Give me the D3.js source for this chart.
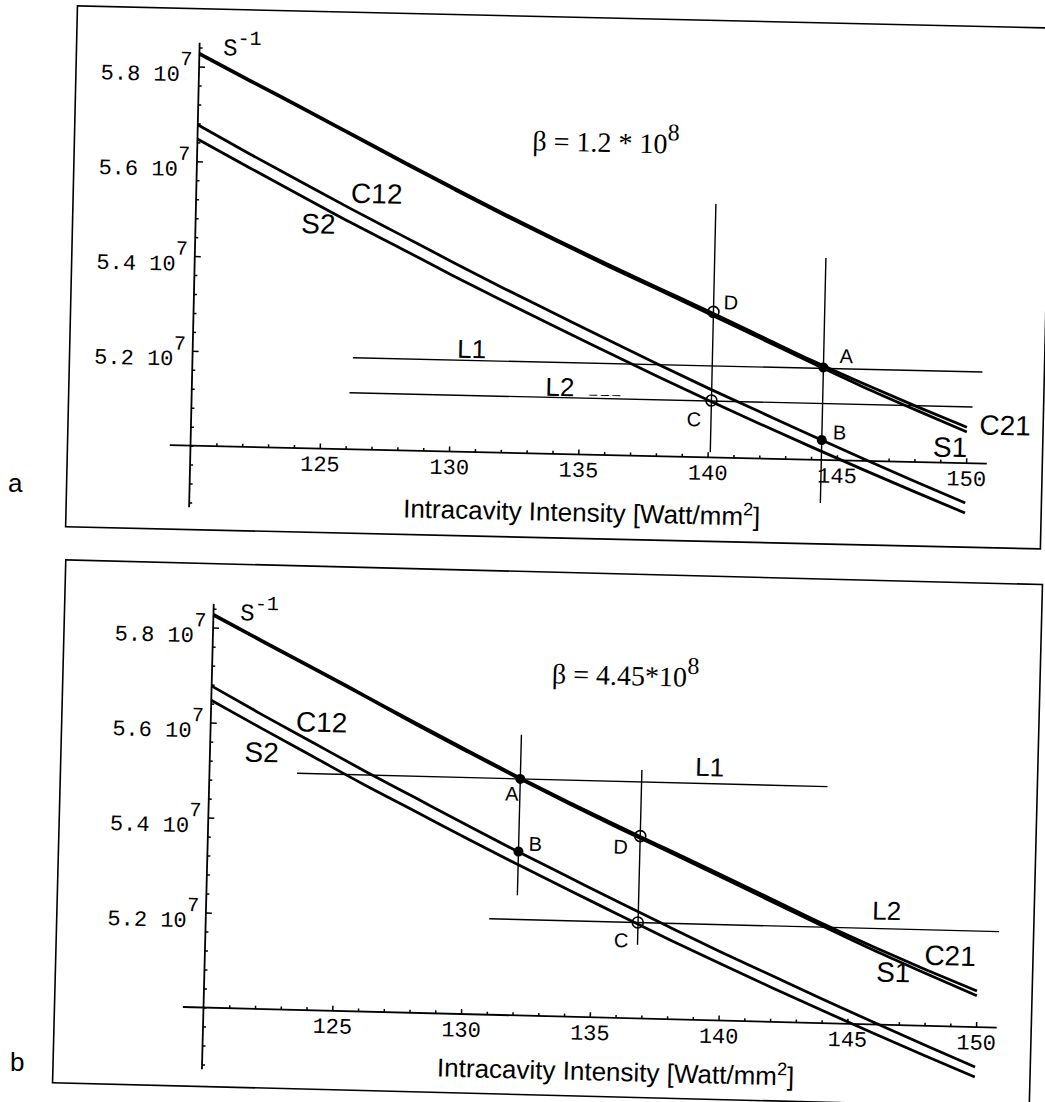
<!DOCTYPE html>
<html>
<head>
<meta charset="utf-8">
<script src="https://cdn.jsdelivr.net/npm/d3@7"></script>
<style>
  body { margin: 0; background: #fff; }
  svg { display: block; }
</style>
</head>
<body>
<svg id="chart" width="1045" height="1102"></svg>
<script>
// values, y in units of 10^7 s^-1
const intensity = [120, 122, 124, 126, 128, 130, 132, 134, 136, 138, 140, 142, 144, 146, 148, 150];
const c21 = [5.828, 5.773, 5.719, 5.664, 5.609, 5.555, 5.502, 5.451, 5.402, 5.354, 5.306, 5.257, 5.208, 5.162, 5.118, 5.076];
const s1  = [5.826, 5.771, 5.717, 5.662, 5.606, 5.552, 5.499, 5.448, 5.398, 5.350, 5.301, 5.252, 5.203, 5.155, 5.110, 5.066];
const c12 = [5.677, 5.619, 5.563, 5.507, 5.453, 5.399, 5.346, 5.295, 5.244, 5.194, 5.145, 5.098, 5.051, 5.005, 4.960, 4.916];
const s2  = [5.647, 5.590, 5.534, 5.478, 5.425, 5.371, 5.319, 5.268, 5.218, 5.168, 5.120, 5.073, 5.027, 4.982, 4.938, 4.895];

const xMajor = [125, 130, 135, 140, 145, 150];
const yMajor = [5.2, 5.4, 5.6, 5.8];
const yTickText = ["5.2 10", "5.4 10", "5.6 10", "5.8 10"];

// per panel (a, b)
const panelNames = ["a", "b"];
const betaText = ["β = 1.2 * 10", "β = 4.45*10"];
const l1Level = [5.193, 5.498];
const l1Span = [[126.2, 150.55], [123.4, 144.0]];
const l2Level = [5.119, 5.202];
const l2Span = [[126.1, 150.2], [131.0, 150.8]];
const vLineX = [[140.1, 144.4], [136.78, 132.07]];
const vLineSpan = [[[5.011, 5.535], [4.909, 5.426]], [[5.155, 5.523], [5.253, 5.591]]];
const pointNames = ["A", "B", "C", "D"];
const pointFilled = [true, true, false, false];
const pointX = [[144.4, 144.4, 140.1, 140.1], [132.07, 132.07, 136.77, 136.78]];
const pointY = [[5.195, 5.042, 5.120, 5.307], [5.498, 5.345, 5.202, 5.384]];

// layout of each scanned panel (slightly rotated in the scan)
const layout = [
  {
    origin: [190.5, 445.6], angle: 1.3, xLen: 775.8, yLen: 379.2,
    frame: [-123, -437, 852, 84], tag: [8, 492],
    curveLab: {C21: [814, -29], S1: [759.5, -6], C12: [180.5, -246.5], S2: [122.8, -215]},
    l1Lab: [279, -94], l2Lab: [368, -58], dashLab: [413, -62],
    beta: [335, -303], sInv: [23.6, -391], title: [214, 67],
    ptLab: {A: [16, -5, "start"], B: [11, -1, "start"], C: [-10, 26, "end"], D: [10, -3, "start"]}
  },
  {
    origin: [203.5, 1007.5], angle: 1.45, xLen: 772.8, yLen: 380,
    frame: [-149, -444, 828, 79], tag: [10, 1071],
    curveLab: {C21: [745, -61], S1: [688.7, -43], C12: [111, -278.5], S2: [51.7, -247]},
    l1Lab: [500, -244], l2Lab: [680.5, -105], dashLab: null,
    beta: [340, -333], sInv: [26.7, -388], title: [235, 63],
    ptLab: {A: [-8, 22, "middle"], B: [10, -1, "start"], C: [-9, 25, "end"], D: [-12, 18, "end"]}
  }
];

const curves = [
  {name: "C21", values: c21},
  {name: "S1", values: s1},
  {name: "C12", values: c12},
  {name: "S2", values: s2}
];

const svg = d3.select("#chart");
const sans = "'Liberation Sans', Arial, sans-serif";
const mono = "'Liberation Mono', 'Courier New', monospace";
const serif = "'Liberation Serif', 'Times New Roman', serif";

layout.forEach((L, i) => {
  // panel letter outside the frame
  svg.append("text")
    .attr("x", L.tag[0]).attr("y", L.tag[1])
    .attr("font-family", sans).attr("font-size", 26)
    .text(panelNames[i]);

  const g = svg.append("g")
    .attr("transform", `translate(${L.origin[0]},${L.origin[1]}) rotate(${L.angle})`);

  const x = d3.scaleLinear().domain([120, 150]).range([0, L.xLen]);
  const y = d3.scaleLinear().domain([5.0, 5.8]).range([0, -L.yLen]);

  // frame
  g.append("rect")
    .attr("x", L.frame[0]).attr("y", L.frame[1])
    .attr("width", L.frame[2] - L.frame[0]).attr("height", L.frame[3] - L.frame[1])
    .attr("fill", "none").attr("stroke", "#000").attr("stroke-width", 1.6);

  // axis lines
  g.append("line")
    .attr("x1", x(119.2)).attr("x2", x(150.8)).attr("y1", y(5.0)).attr("y2", y(5.0))
    .attr("stroke", "#000").attr("stroke-width", 1.8);
  g.append("line")
    .attr("x1", x(120)).attr("x2", x(120)).attr("y1", y(4.87)).attr("y2", y(5.85))
    .attr("stroke", "#000").attr("stroke-width", 1.8);

  // x ticks (upwards), labels below
  const xMinor = d3.range(121, 151).filter(v => v % 5 !== 0);
  const xAxisG = g.append("g").attr("transform", `translate(0,${y(5.0)})`);
  xAxisG.append("g")
    .call(d3.axisBottom(x).tickValues(xMinor).tickSize(-3).tickFormat(""))
    .call(a => a.select(".domain").remove());
  xAxisG.append("g")
    .call(d3.axisBottom(x).tickValues(xMajor).tickSize(-5).tickPadding(7).tickFormat(d3.format("d")))
    .call(a => a.select(".domain").remove())
    .call(a => a.selectAll("text").attr("font-family", mono).attr("font-size", 22).attr("fill", "#000"));
  xAxisG.selectAll("line").attr("stroke", "#000").attr("stroke-width", 1.5);

  // y ticks (to the right), labels "5.8 10^7"
  const yMinor = d3.range(122, 147).map(k => k * 0.04).filter(v => !yMajor.some(m => Math.abs(m - v) < 1e-6));
  const yAxisG = g.append("g").attr("transform", `translate(${x(120)},0)`);
  yAxisG.append("g")
    .call(d3.axisLeft(y).tickValues(yMinor).tickSize(-3).tickFormat(""))
    .call(a => a.select(".domain").remove());
  yAxisG.append("g")
    .call(d3.axisLeft(y).tickValues(yMajor).tickSize(-6).tickFormat(""))
    .call(a => a.select(".domain").remove());
  yAxisG.selectAll("line").attr("stroke", "#000").attr("stroke-width", 1.5);
  yMajor.forEach((v, k) => {
    g.append("text")
      .attr("font-family", mono).attr("font-size", 22)
      .attr("x", x(120) - 19).attr("y", y(v) + 15)
      .attr("text-anchor", "end")
      .text(yTickText[k]);
    g.append("text")
      .attr("font-family", mono).attr("font-size", 20)
      .attr("x", x(120) - 19).attr("y", y(v) - 1)
      .text("7");
  });

  // S^-1 unit
  g.append("text")
    .attr("x", L.sInv[0]).attr("y", L.sInv[1])
    .attr("font-family", mono).attr("font-size", 24)
    .call(t => t.append("tspan").text("S"))
    .call(t => t.append("tspan").attr("dy", -11).attr("font-size", 20).text("-1"));

  // curves
  const line = d3.line()
    .x((d, k) => x(intensity[k]))
    .y(d => y(d))
    .curve(d3.curveMonotoneX);
  curves.forEach(c => {
    g.append("path")
      .attr("d", line(c.values))
      .attr("fill", "none").attr("stroke", "#000").attr("stroke-width", 2.8);
  });

  // horizontal guide lines L1, L2
  [[l1Level[i], l1Span[i]], [l2Level[i], l2Span[i]]].forEach(([lev, span]) => {
    g.append("line")
      .attr("x1", x(span[0])).attr("x2", x(span[1]))
      .attr("y1", y(lev)).attr("y2", y(lev))
      .attr("stroke", "#000").attr("stroke-width", 1.4);
  });
  // vertical guide lines
  vLineX[i].forEach((vx, k) => {
    g.append("line")
      .attr("x1", x(vx)).attr("x2", x(vx))
      .attr("y1", y(vLineSpan[i][k][0])).attr("y2", y(vLineSpan[i][k][1]))
      .attr("stroke", "#000").attr("stroke-width", 1.4);
  });

  // points A B C D
  pointNames.forEach((nm, k) => {
    const px = x(pointX[i][k]), py = y(pointY[i][k]);
    g.append("circle")
      .attr("cx", px).attr("cy", py)
      .attr("r", pointFilled[k] ? 5 : 5.5)
      .attr("fill", pointFilled[k] ? "#000" : "none")
      .attr("stroke", "#000").attr("stroke-width", pointFilled[k] ? 0 : 1.6);
    const o = L.ptLab[nm];
    g.append("text")
      .attr("x", px + o[0]).attr("y", py + o[1])
      .attr("text-anchor", o[2])
      .attr("font-family", sans).attr("font-size", 20)
      .text(nm);
  });

  // curve names
  curves.forEach(c => {
    const p = L.curveLab[c.name];
    g.append("text")
      .attr("x", p[0]).attr("y", p[1])
      .attr("text-anchor", "middle")
      .attr("font-family", sans).attr("font-size", 28)
      .text(c.name);
  });

  // L1 / L2 labels
  [["L1", L.l1Lab], ["L2", L.l2Lab]].forEach(([nm, p]) => {
    g.append("text")
      .attr("x", p[0]).attr("y", p[1])
      .attr("text-anchor", "middle")
      .attr("font-family", sans).attr("font-size", 26)
      .text(nm);
  });
  if (L.dashLab) {
    g.append("text")
      .attr("x", L.dashLab[0]).attr("y", L.dashLab[1])
      .attr("text-anchor", "middle")
      .attr("font-family", sans).attr("font-size", 14)
      .text("_ _ _");
  }

  // beta
  g.append("text")
    .attr("x", L.beta[0]).attr("y", L.beta[1])
    .attr("font-family", serif).attr("font-size", 28)
    .call(t => t.append("tspan").text(betaText[i]))
    .call(t => t.append("tspan").attr("dy", -13).attr("font-size", 24).text("8"));

  // x axis title
  g.append("text")
    .attr("x", L.title[0]).attr("y", L.title[1])
    .attr("font-family", sans).attr("font-size", 26)
    .call(t => t.append("tspan").text("Intracavity Intensity [Watt/mm"))
    .call(t => t.append("tspan").attr("dy", -10).attr("font-size", 18).text("2"))
    .call(t => t.append("tspan").attr("dy", 10).text("]"));
});
</script>
</body>
</html>
